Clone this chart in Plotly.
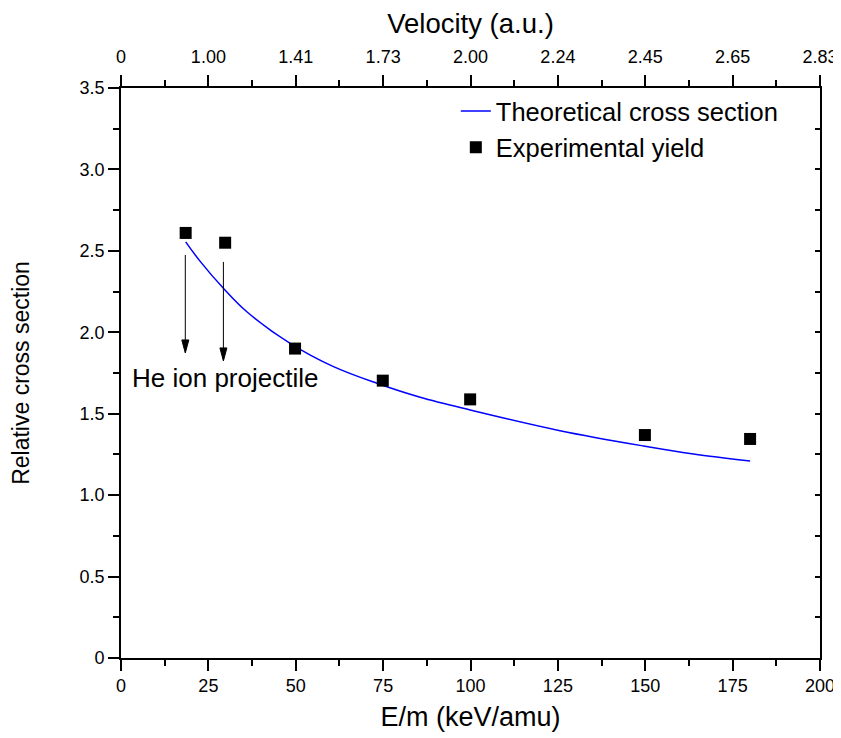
import plotly.graph_objects as go

# Experimental yield (squares)
exp_energy = [18.5, 29.8, 49.8, 74.9, 99.9, 149.9, 180]
exp_yield = [2.61, 2.55, 1.90, 1.703, 1.588, 1.369, 1.345]

# Theoretical cross section (blue curve)
th_energy = [18.5, 22.6, 29.3, 36.0, 48.4, 60.8, 73.2, 85.6, 99.9, 125.6, 149.5, 163.8, 180]
th_sigma = [2.555, 2.437, 2.27, 2.126, 1.932, 1.789, 1.687, 1.601, 1.523, 1.396, 1.302, 1.253, 1.21]

# Axis ticks
energy_ticks = [0, 25, 50, 75, 100, 125, 150, 175, 200]
velocity_labels = ["0", "1.00", "1.41", "1.73", "2.00", "2.24", "2.45", "2.65", "2.83"]
sigma_ticks = [0, 0.5, 1.0, 1.5, 2.0, 2.5, 3.0, 3.5]
sigma_labels = ["0", "0.5", "1.0", "1.5", "2.0", "2.5", "3.0", "3.5"]

# Arrow annotations (x, start y, tip y)
arrow_x = [18.4, 29.3]
arrow_y0 = [2.475, 2.432]
arrow_y1 = [1.873, 1.824]

FONT = "Liberation Sans, Arial, sans-serif"
HEAD_HALF_W = 1.0   # arrowhead half width (x data units, ~3.5 px)
HEAD_LEN = 0.08     # arrowhead length (y data units, ~13 px)

fig = go.Figure()
fig.add_trace(go.Scatter(x=th_energy, y=th_sigma, mode="lines", name="Theoretical cross section",
                         line=dict(color="#0000FF", width=1.5, shape="spline", smoothing=1)))
fig.add_trace(go.Scatter(x=exp_energy, y=exp_yield, mode="markers", name="Experimental yield",
                         marker=dict(symbol="square", size=12, color="black")))

# invisible trace to activate secondary axes
fig.add_trace(go.Scatter(x=[0], y=[0], xaxis="x2", yaxis="y2", mode="markers",
                         marker=dict(opacity=0), showlegend=False, hoverinfo="skip"))

for xa, y0, y1 in zip(arrow_x, arrow_y0, arrow_y1):
    fig.add_shape(type="line", xref="x", yref="y", x0=xa, x1=xa, y0=y0, y1=y1 + HEAD_LEN,
                  line=dict(color="black", width=1))
    fig.add_shape(type="path", xref="x", yref="y",
                  path=f"M {xa - HEAD_HALF_W},{y1 + HEAD_LEN} L {xa + HEAD_HALF_W},{y1 + HEAD_LEN} L {xa},{y1} Z",
                  fillcolor="black", line=dict(color="black", width=1))

fig.add_annotation(x=2.6, y=1.72, xref="x", yref="y", text="He ion projectile", showarrow=False,
                   xanchor="left", yanchor="middle", font=dict(size=26, color="black", family=FONT))

axis_common = dict(showline=True, linecolor="black", linewidth=1.6, showgrid=False, zeroline=False,
                   automargin=False, tickcolor="black", tickwidth=1.5,
                   tickfont=dict(size=18, color="black", family=FONT))

fig.update_layout(
    width=833, height=730,
    margin=dict(l=113, r=21, t=80, b=80),
    plot_bgcolor="white", paper_bgcolor="white",
    font=dict(family=FONT, color="black"),
    showlegend=True,
    legend=dict(x=0.479, y=1.0, xanchor="left", yanchor="top", bgcolor="rgba(0,0,0,0)",
                font=dict(size=25.5, family=FONT, color="black")),
    xaxis=dict(range=[0, 200], tickvals=energy_ticks, ticks="outside", ticklen=11,
               minor=dict(dtick=12.5, ticks="outside", ticklen=6, tickcolor="black", tickwidth=1.5),
               title=dict(text="E/m (keV/amu)", font=dict(size=27, family=FONT), standoff=12),
               **axis_common),
    xaxis2=dict(range=[0, 200], overlaying="x", side="top", tickvals=energy_ticks, ticktext=velocity_labels,
                ticks="outside", ticklen=11, ticklabelstandoff=5,
                minor=dict(dtick=12.5, ticks="outside", ticklen=6, tickcolor="black", tickwidth=1.5),
                title=dict(text="Velocity (a.u.)", font=dict(size=27.5, family=FONT), standoff=18),
                **axis_common),
    yaxis=dict(range=[0, 3.5], tickvals=sigma_ticks, ticktext=sigma_labels,
               ticks="outside", ticklen=11,
               minor=dict(dtick=0.25, ticks="outside", ticklen=6, tickcolor="black", tickwidth=1.5),
               title=dict(text="Relative cross section", font=dict(size=23, family=FONT), standoff=46),
               **axis_common),
    yaxis2=dict(range=[0, 3.5], overlaying="y", side="right", dtick=0.5, ticks="inside", ticklen=5,
                showticklabels=False,
                minor=dict(dtick=0.25, ticks="inside", ticklen=5, tickcolor="black", tickwidth=1.5),
                **axis_common),
)

fig.write_html("out.html")
